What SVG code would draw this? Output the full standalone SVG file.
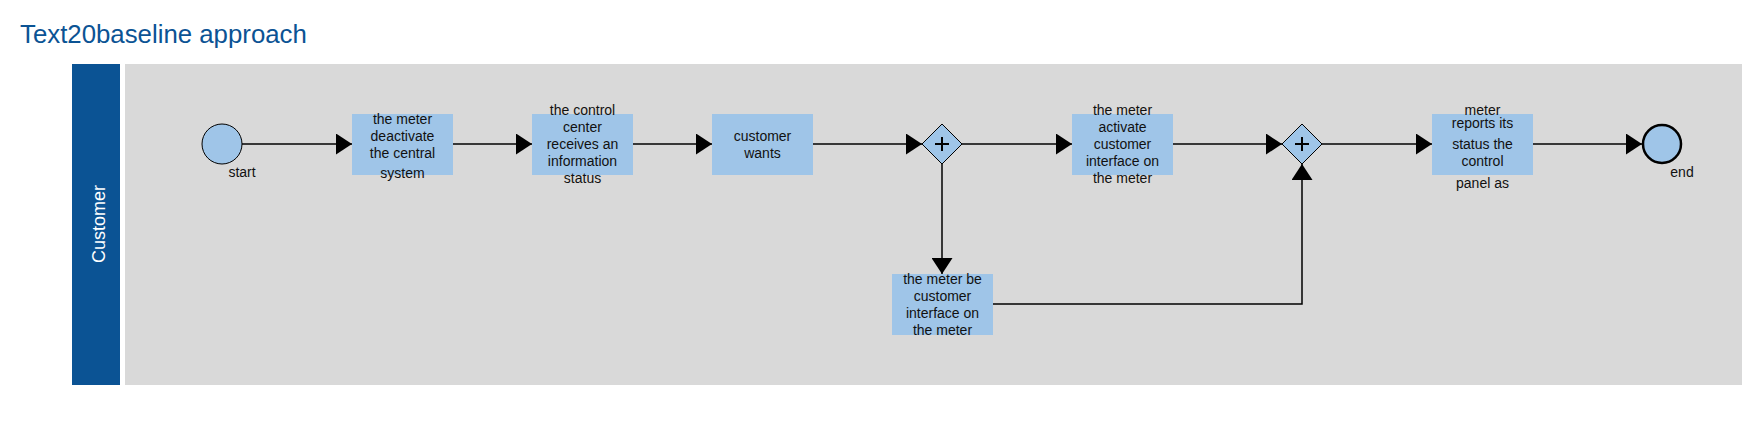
<svg xmlns="http://www.w3.org/2000/svg" width="1759" height="426" viewBox="0 0 1759 426">
<defs>
<style>
.t{font-family:"Liberation Sans",Arial,sans-serif;font-size:14px;fill:#111;text-anchor:middle}
.task{fill:#9fc5e8}
.ev{fill:#9fc5e8;stroke:#000;stroke-width:1}
.gw{fill:#9fc5e8;stroke:#000;stroke-width:1}
.c{fill:none;stroke:#000;stroke-width:1.5}
</style>
<marker id="a" markerWidth="16" markerHeight="21" refX="16" refY="10.5" orient="auto" markerUnits="userSpaceOnUse">
<path d="M0,0 L16,10.5 L0,21 Z" fill="#000"/>
</marker>
</defs>
<rect width="1759" height="426" fill="#fff"/>
<text x="20" y="43" style="font-family:'Liberation Sans',Arial,sans-serif;font-size:25.8px;fill:#0b5394">Text20baseline approach</text>
<g id="pool">
<rect x="72" y="64" width="48" height="321" fill="#0b5394"/>
<rect x="125" y="64" width="1617" height="321" fill="#d9d9d9"/>
<text transform="translate(104.5,224) rotate(-90)" style="font-family:'Liberation Sans',Arial,sans-serif;font-size:18px;fill:#fff;text-anchor:middle">Customer</text>
</g>
<g id="connectors">
<line class="c" x1="242" y1="144" x2="352" y2="144" marker-end="url(#a)"/>
<line class="c" x1="453" y1="144" x2="532" y2="144" marker-end="url(#a)"/>
<line class="c" x1="633" y1="144" x2="712" y2="144" marker-end="url(#a)"/>
<line class="c" x1="813" y1="144" x2="922" y2="144" marker-end="url(#a)"/>
<line class="c" x1="962" y1="144" x2="1072" y2="144" marker-end="url(#a)"/>
<line class="c" x1="1173" y1="144" x2="1282" y2="144" marker-end="url(#a)"/>
<line class="c" x1="1322" y1="144" x2="1432" y2="144" marker-end="url(#a)"/>
<line class="c" x1="1533" y1="144" x2="1642" y2="144" marker-end="url(#a)"/>
<line class="c" x1="942" y1="164" x2="942" y2="274" marker-end="url(#a)"/>
<polyline class="c" points="993,304 1302,304 1302,164" marker-end="url(#a)"/>
</g>
<g id="start">
<circle class="ev" cx="222" cy="144" r="20"/>
<text class="t" x="242" y="177">start</text>
</g>
<g id="task1">
<rect class="task" x="352" y="114" width="101" height="61"/>
<text class="t" x="402.5" y="124">the meter</text>
<text class="t" x="402.5" y="141">deactivate</text>
<text class="t" x="402.5" y="158">the central</text>
<text class="t" x="402.5" y="178">system</text>
</g>
<g id="task2">
<rect class="task" x="532" y="114" width="101" height="61"/>
<text class="t" x="582.5" y="115">the control</text>
<text class="t" x="582.5" y="132">center</text>
<text class="t" x="582.5" y="149">receives an</text>
<text class="t" x="582.5" y="166">information</text>
<text class="t" x="582.5" y="183">status</text>
</g>
<g id="task3">
<rect class="task" x="712" y="114" width="101" height="61"/>
<text class="t" x="762.5" y="141">customer</text>
<text class="t" x="762.5" y="158">wants</text>
</g>
<g id="gw1">
<polygon class="gw" points="942,124 962,144 942,164 922,144"/>
<path d="M942,137 V151 M935,144 H949" stroke="#000" stroke-width="2"/>
</g>
<g id="task4">
<rect class="task" x="1072" y="114" width="101" height="61"/>
<text class="t" x="1122.5" y="115">the meter</text>
<text class="t" x="1122.5" y="132">activate</text>
<text class="t" x="1122.5" y="149">customer</text>
<text class="t" x="1122.5" y="166">interface on</text>
<text class="t" x="1122.5" y="183">the meter</text>
</g>
<g id="task6">
<rect class="task" x="892" y="274" width="101" height="61"/>
<text class="t" x="942.5" y="284">the meter be</text>
<text class="t" x="942.5" y="301">customer</text>
<text class="t" x="942.5" y="318">interface on</text>
<text class="t" x="942.5" y="335">the meter</text>
</g>
<g id="gw2">
<polygon class="gw" points="1302,124 1322,144 1302,164 1282,144"/>
<path d="M1302,137 V151 M1295,144 H1309" stroke="#000" stroke-width="2"/>
</g>
<g id="task5">
<rect class="task" x="1432" y="114" width="101" height="61"/>
<text class="t" x="1482.5" y="115">meter</text>
<text class="t" x="1482.5" y="128">reports its</text>
<text class="t" x="1482.5" y="149">status the</text>
<text class="t" x="1482.5" y="166">control</text>
<text class="t" x="1482.5" y="188">panel as</text>
</g>
<g id="end">
<circle cx="1662" cy="144" r="19" fill="#9fc5e8" stroke="#000" stroke-width="2.5"/>
<text class="t" x="1682" y="177">end</text>
</g>
</svg>
